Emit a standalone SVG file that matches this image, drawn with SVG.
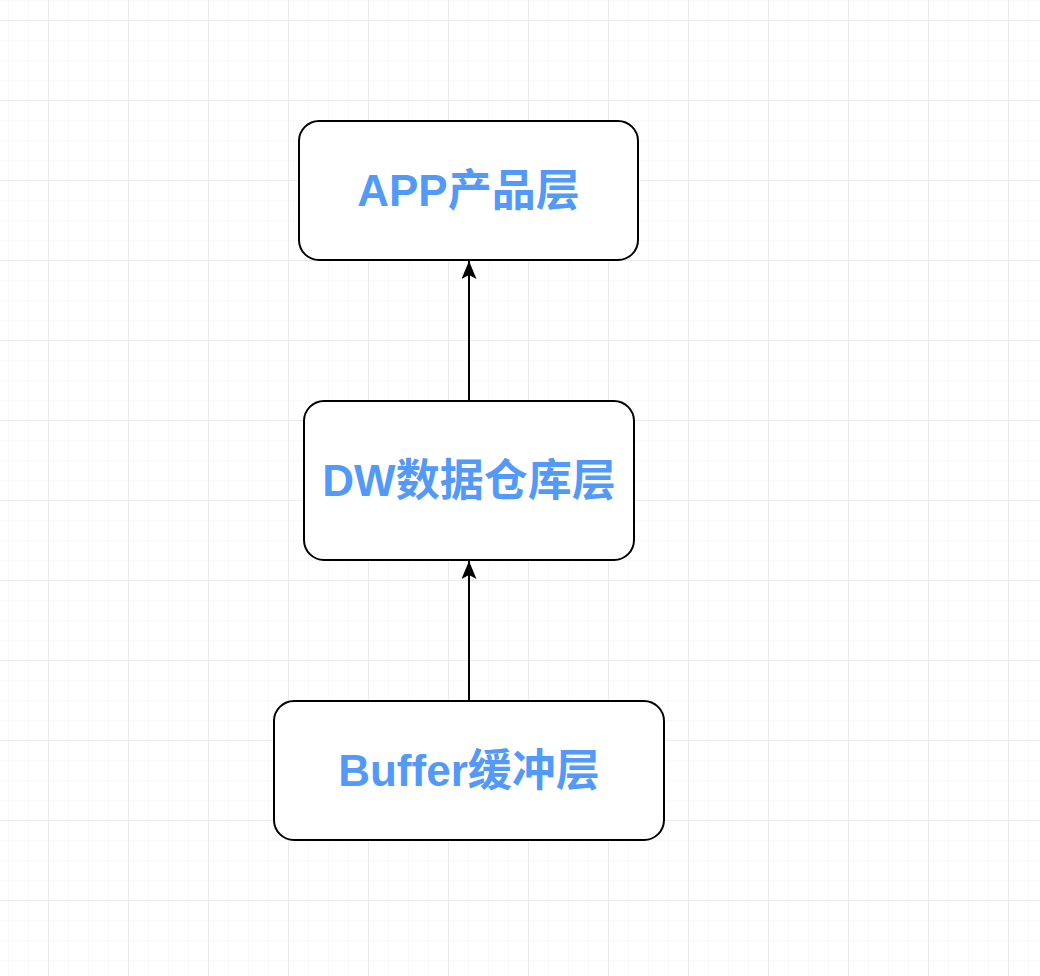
<svg xmlns="http://www.w3.org/2000/svg" width="1040" height="976" viewBox="0 0 1040 976">
<defs>
<pattern id="minor" x="8" y="0" width="20" height="20" patternUnits="userSpaceOnUse">
<path d="M0 0V20M0 0H20" fill="none" stroke="#f3f3f3" stroke-width="1"/>
</pattern>
<pattern id="major" x="48" y="20" width="80" height="80" patternUnits="userSpaceOnUse">
<path d="M0 0V80M0 0H80" fill="none" stroke="#dedede" stroke-width="1"/>
</pattern>
<marker id="arr" viewBox="0 0 18 15" refX="18" refY="7.5" markerWidth="18" markerHeight="15" markerUnits="userSpaceOnUse" orient="auto">
<path d="M0 0L18 7.5L0 15L4 7.5Z" fill="#000"/>
</marker>
<style>
.box{fill:#fff;stroke:#000;stroke-width:2}
.lbl{font-family:"Liberation Sans","Noto Sans CJK SC",sans-serif;font-weight:bold;font-size:44px;fill:#5399fa;text-anchor:middle}
.edge{stroke:#000;stroke-width:2;fill:none}
</style>
</defs>
<rect width="1040" height="976" fill="#fff"/>
<rect width="1040" height="976" fill="url(#minor)"/>
<rect width="1040" height="976" fill="url(#major)"/>
<g id="edges">
<path class="edge" d="M469 401V261" marker-end="url(#arr)"/>
<path class="edge" d="M469 701V561" marker-end="url(#arr)"/>
</g>
<g id="app">
<rect class="box" x="299" y="121" width="339" height="139" rx="20"/>
<text class="lbl" x="468.5" y="206">APP产品层</text>
</g>
<g id="dw">
<rect class="box" x="304" y="401" width="330" height="159" rx="20"/>
<text class="lbl" x="469" y="496">DW数据仓库层</text>
</g>
<g id="buffer">
<rect class="box" x="274" y="701" width="390" height="139" rx="20"/>
<text class="lbl" x="469" y="786">Buffer缓冲层</text>
</g>
</svg>
